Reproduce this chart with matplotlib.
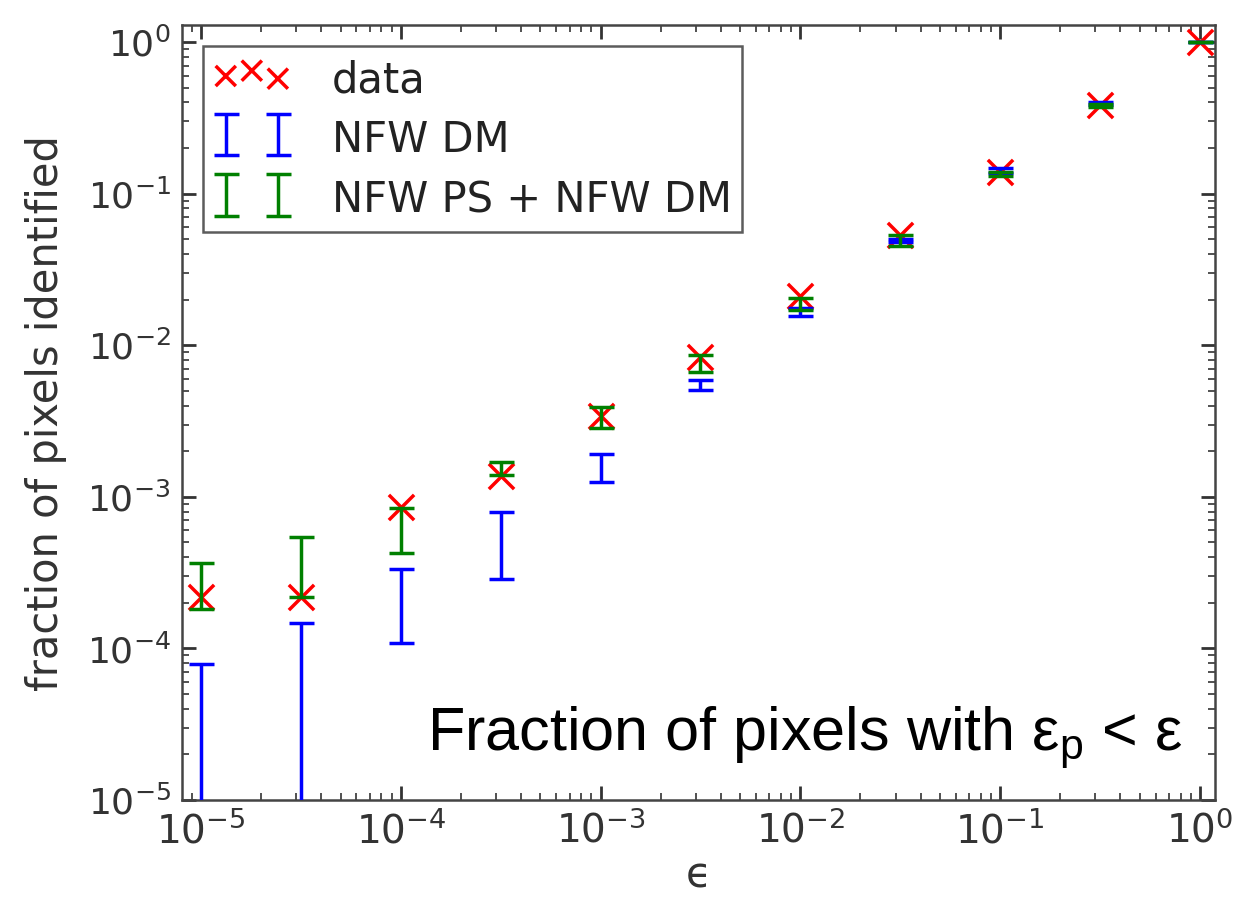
import matplotlib
matplotlib.use('Agg')
import matplotlib.pyplot as plt
import numpy as np

# threshold epsilon values (x)
eps = [1e-5, 3.16e-5, 1e-4, 3.16e-4, 1e-3, 3.16e-3, 1e-2, 3.16e-2, 0.1, 0.316, 1.0]
# measured fraction (red crosses)
data_frac = [2.2e-4, 2.2e-4, 8.6e-4, 1.37e-3, 3.4e-3, 8.4e-3, 2.1e-2, 5.3e-2, 0.14, 0.385, 1.0]
# NFW DM band (blue)
dm_lo = [1e-7, 1e-7, 1.09e-4, 2.88e-4, 1.26e-3, 5.08e-3, 1.55e-2, 4.8e-2, 0.137, 0.387, 1.0]
dm_hi = [7.9e-5, 1.47e-4, 3.35e-4, 8.0e-4, 1.92e-3, 5.9e-3, 1.75e-2, 5.0e-2, 0.148, 0.404, 1.0]
# NFW PS + NFW DM band (green)
ps_lo = [1.82e-4, 2.2e-4, 4.27e-4, 1.40e-3, 2.85e-3, 6.7e-3, 1.71e-2, 4.55e-2, 0.13, 0.375, 1.0]
ps_hi = [3.66e-4, 5.45e-4, 8.5e-4, 1.70e-3, 3.93e-3, 8.65e-3, 2.06e-2, 5.35e-2, 0.14, 0.39, 1.0]

labels = ['data', 'NFW DM', 'NFW PS + NFW DM']

plt.rcParams['mathtext.rm'] = 'Liberation Sans'
plt.rcParams['mathtext.it'] = 'Liberation Sans:italic'
plt.rcParams['mathtext.bf'] = 'Liberation Sans:bold'
plt.rcParams['mathtext.sf'] = 'Liberation Sans'

fig = plt.figure(figsize=(12.5, 9.05), dpi=100)
ax = fig.add_axes([0.1456, 0.116, 0.8264, 0.856])
ax.set_xscale('log')
ax.set_yscale('log')

ax.scatter(eps, data_frac, marker='x', s=330, c='#ff0000', linewidths=2.5,
           label=labels[0], zorder=2)


def band(lo, hi, color, label):
    lo = np.array(lo)
    hi = np.array(hi)
    mid = (lo + hi) / 2
    return ax.errorbar(eps, mid, yerr=[mid - lo, hi - mid], fmt='none',
                       ecolor=color, elinewidth=2.5, capsize=9, capthick=2.5,
                       label=label, zorder=3)


band(dm_lo, dm_hi, '#0000ff', labels[1])
band(ps_lo, ps_hi, '#008000', labels[2])

ax.set_xlim(8.03e-6, 1.19)
ax.set_ylim(1e-5, 1.29)

for s in ax.spines.values():
    s.set_linewidth(1.8)
    s.set_color('#444444')

ax.tick_params(which='both', direction='in', top=True, right=True,
               colors='#333333')
ax.tick_params(axis='y', labelsize=26)
ax.tick_params(axis='x', labelsize=28)
ax.tick_params(which='major', length=10, width=2, pad=8)
ax.tick_params(which='minor', length=5, width=1.2)

ax.set_ylabel('fraction of pixels identified', fontsize=30, color='#333333',
              labelpad=14)
ax.set_xlabel('\u03f5', fontsize=30, color='#333333', labelpad=3)

leg = ax.legend(loc='upper left', numpoints=2, scatterpoints=3, fontsize=30,
                frameon=True, fancybox=False, edgecolor='#333333',
                borderaxespad=0.5, handlelength=1.85, handleheight=1.2,
                handletextpad=1.0, labelspacing=0.38, borderpad=0.25,
                markerscale=0.8)
leg.get_frame().set_linewidth(1.8)
for t in leg.get_texts():
    t.set_color('#222222')

ax.text(0.969, 0.064, 'Fraction of pixels with ε$_{\\mathrm{p}}$ < ε',
        transform=ax.transAxes, ha='right', va='baseline', fontsize=44,
        family='Liberation Sans', math_fontfamily='custom', color='black')

fig.savefig('out.png', dpi=100)
